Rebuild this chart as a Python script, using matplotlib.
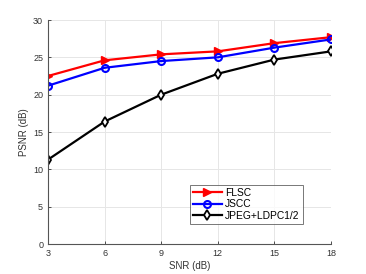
import matplotlib
matplotlib.use("Agg")
import matplotlib.pyplot as plt

snr = [3, 6, 9, 12, 15, 18]
flsc = [22.5, 24.6, 25.4, 25.8, 26.9, 27.7]
jscc = [21.2, 23.6, 24.5, 25.0, 26.3, 27.4]
jpeg_ldpc = [11.3, 16.4, 20.0, 22.8, 24.7, 25.8]

plt.rcParams['font.family'] = ['Liberation Sans', 'DejaVu Sans']

fig = plt.figure(figsize=(3.66, 2.74), dpi=100)
ax = fig.add_axes([48/366, 1 - 244/274, 283/366, 224/274])

ax.plot(snr, flsc, color='red', lw=1.6, marker='>', ms=6, mfc='red', mec='red', label='FLSC')
ax.plot(snr, jscc, color='blue', lw=1.6, marker='o', ms=5, mfc='none', mec='blue', mew=1.5, label='JSCC')
ax.plot(snr, jpeg_ldpc, color='black', lw=1.6, marker='d', ms=5, mfc='white', mec='black', mew=1.3,
        label='JPEG+LDPC1/2')

ax.set_xlim(3, 18)
ax.set_ylim(0, 30)
ax.set_xticks(snr)
ax.set_yticks(range(0, 31, 5))
ax.grid(True, color='#e6e6e6', lw=0.7)
ax.set_axisbelow(True)
for s in ['top', 'right']:
    ax.spines[s].set_visible(False)
for s in ['left', 'bottom']:
    ax.spines[s].set_color('#555555')
    ax.spines[s].set_linewidth(0.8)
ax.tick_params(labelsize=6.5, colors='#333333', length=2.5, direction='in', width=0.6)
ax.set_xlabel('SNR (dB)', fontsize=7, color='#333333', labelpad=2)
ax.set_ylabel('PSNR (dB)', fontsize=7, color='#333333', labelpad=3)

leg = ax.legend(loc='lower left', bbox_to_anchor=(142/283, 20/224), fontsize=7.4, frameon=True,
                fancybox=False, edgecolor='#555555', borderpad=0.3, labelspacing=0.15,
                handlelength=2.8, handletextpad=0.3, borderaxespad=0)
leg.get_frame().set_linewidth(0.7)

fig.savefig('out.png', dpi=100)
